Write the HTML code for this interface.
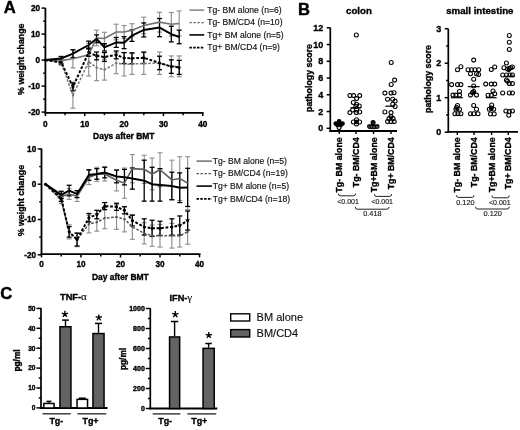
<!DOCTYPE html>
<html><head><meta charset="utf-8"><style>
html,body{margin:0;padding:0;background:#fff;}
body{width:520px;height:430px;overflow:hidden;font-family:"Liberation Sans",sans-serif;-webkit-font-smoothing:antialiased;}
svg{display:block;will-change:transform;}
</style></head><body>
<svg width="520" height="430" viewBox="0 0 520 430">
<style>
text{font-family:"Liberation Sans",sans-serif;fill:#000;}
.b{font-weight:bold;stroke:#000;stroke-width:0.35;}
.r{font-weight:normal;fill:#111;stroke:#111;stroke-width:0.15;}
.s{font-weight:normal;fill:#222;stroke:#222;stroke-width:0.15;}
.P{font-weight:bold;stroke:#000;stroke-width:0.45;}
.g{font-family:'Liberation Serif',serif;font-weight:normal;stroke:#000;stroke-width:0.1;}
</style>
<rect x="0" y="0" width="520" height="430" fill="#fff"/>
<text class="P" x="3.70" y="13.40" font-size="16.6" >A</text>
<text class="P" x="298.10" y="14.60" font-size="16.6" >B</text>
<text class="P" x="0.30" y="298.90" font-size="16.6" >C</text>
<line x1="61.14" y1="60.10" x2="61.14" y2="65.30" stroke="#8e8e8e" stroke-width="1.15" />
<line x1="58.64" y1="60.10" x2="63.64" y2="60.10" stroke="#8e8e8e" stroke-width="1.15" />
<line x1="58.64" y1="65.30" x2="63.64" y2="65.30" stroke="#8e8e8e" stroke-width="1.15" />
<line x1="72.94" y1="82.20" x2="72.94" y2="108.20" stroke="#8e8e8e" stroke-width="1.15" />
<line x1="70.44" y1="82.20" x2="75.44" y2="82.20" stroke="#8e8e8e" stroke-width="1.15" />
<line x1="70.44" y1="108.20" x2="75.44" y2="108.20" stroke="#8e8e8e" stroke-width="1.15" />
<line x1="88.69" y1="47.36" x2="88.69" y2="75.96" stroke="#8e8e8e" stroke-width="1.15" />
<line x1="86.19" y1="47.36" x2="91.19" y2="47.36" stroke="#8e8e8e" stroke-width="1.15" />
<line x1="86.19" y1="75.96" x2="91.19" y2="75.96" stroke="#8e8e8e" stroke-width="1.15" />
<line x1="96.56" y1="54.64" x2="96.56" y2="80.64" stroke="#8e8e8e" stroke-width="1.15" />
<line x1="94.06" y1="54.64" x2="99.06" y2="54.64" stroke="#8e8e8e" stroke-width="1.15" />
<line x1="94.06" y1="80.64" x2="99.06" y2="80.64" stroke="#8e8e8e" stroke-width="1.15" />
<line x1="104.42" y1="59.32" x2="104.42" y2="80.12" stroke="#8e8e8e" stroke-width="1.15" />
<line x1="101.92" y1="59.32" x2="106.92" y2="59.32" stroke="#8e8e8e" stroke-width="1.15" />
<line x1="101.92" y1="80.12" x2="106.92" y2="80.12" stroke="#8e8e8e" stroke-width="1.15" />
<line x1="116.23" y1="52.82" x2="116.23" y2="73.62" stroke="#8e8e8e" stroke-width="1.15" />
<line x1="113.73" y1="52.82" x2="118.73" y2="52.82" stroke="#8e8e8e" stroke-width="1.15" />
<line x1="113.73" y1="73.62" x2="118.73" y2="73.62" stroke="#8e8e8e" stroke-width="1.15" />
<line x1="124.10" y1="52.56" x2="124.10" y2="75.96" stroke="#8e8e8e" stroke-width="1.15" />
<line x1="121.60" y1="52.56" x2="126.60" y2="52.56" stroke="#8e8e8e" stroke-width="1.15" />
<line x1="121.60" y1="75.96" x2="126.60" y2="75.96" stroke="#8e8e8e" stroke-width="1.15" />
<line x1="131.97" y1="53.60" x2="131.97" y2="74.40" stroke="#8e8e8e" stroke-width="1.15" />
<line x1="129.47" y1="53.60" x2="134.47" y2="53.60" stroke="#8e8e8e" stroke-width="1.15" />
<line x1="129.47" y1="74.40" x2="134.47" y2="74.40" stroke="#8e8e8e" stroke-width="1.15" />
<line x1="143.78" y1="52.56" x2="143.78" y2="74.40" stroke="#8e8e8e" stroke-width="1.15" />
<line x1="141.28" y1="52.56" x2="146.28" y2="52.56" stroke="#8e8e8e" stroke-width="1.15" />
<line x1="141.28" y1="74.40" x2="146.28" y2="74.40" stroke="#8e8e8e" stroke-width="1.15" />
<line x1="159.51" y1="52.04" x2="159.51" y2="74.40" stroke="#8e8e8e" stroke-width="1.15" />
<line x1="157.01" y1="52.04" x2="162.01" y2="52.04" stroke="#8e8e8e" stroke-width="1.15" />
<line x1="157.01" y1="74.40" x2="162.01" y2="74.40" stroke="#8e8e8e" stroke-width="1.15" />
<line x1="171.32" y1="55.94" x2="171.32" y2="76.74" stroke="#8e8e8e" stroke-width="1.15" />
<line x1="168.82" y1="55.94" x2="173.82" y2="55.94" stroke="#8e8e8e" stroke-width="1.15" />
<line x1="168.82" y1="76.74" x2="173.82" y2="76.74" stroke="#8e8e8e" stroke-width="1.15" />
<line x1="179.19" y1="55.94" x2="179.19" y2="76.74" stroke="#8e8e8e" stroke-width="1.15" />
<line x1="176.69" y1="55.94" x2="181.69" y2="55.94" stroke="#8e8e8e" stroke-width="1.15" />
<line x1="176.69" y1="76.74" x2="181.69" y2="76.74" stroke="#8e8e8e" stroke-width="1.15" />
<line x1="61.14" y1="58.02" x2="61.14" y2="63.22" stroke="#8e8e8e" stroke-width="1.15" />
<line x1="58.64" y1="58.02" x2="63.64" y2="58.02" stroke="#8e8e8e" stroke-width="1.15" />
<line x1="58.64" y1="63.22" x2="63.64" y2="63.22" stroke="#8e8e8e" stroke-width="1.15" />
<line x1="72.94" y1="49.70" x2="72.94" y2="67.90" stroke="#8e8e8e" stroke-width="1.15" />
<line x1="70.44" y1="49.70" x2="75.44" y2="49.70" stroke="#8e8e8e" stroke-width="1.15" />
<line x1="70.44" y1="67.90" x2="75.44" y2="67.90" stroke="#8e8e8e" stroke-width="1.15" />
<line x1="88.69" y1="43.20" x2="88.69" y2="66.60" stroke="#8e8e8e" stroke-width="1.15" />
<line x1="86.19" y1="43.20" x2="91.19" y2="43.20" stroke="#8e8e8e" stroke-width="1.15" />
<line x1="86.19" y1="66.60" x2="91.19" y2="66.60" stroke="#8e8e8e" stroke-width="1.15" />
<line x1="96.56" y1="30.20" x2="96.56" y2="45.80" stroke="#8e8e8e" stroke-width="1.15" />
<line x1="94.06" y1="30.20" x2="99.06" y2="30.20" stroke="#8e8e8e" stroke-width="1.15" />
<line x1="94.06" y1="45.80" x2="99.06" y2="45.80" stroke="#8e8e8e" stroke-width="1.15" />
<line x1="104.42" y1="32.28" x2="104.42" y2="44.76" stroke="#8e8e8e" stroke-width="1.15" />
<line x1="101.92" y1="32.28" x2="106.92" y2="32.28" stroke="#8e8e8e" stroke-width="1.15" />
<line x1="101.92" y1="44.76" x2="106.92" y2="44.76" stroke="#8e8e8e" stroke-width="1.15" />
<line x1="116.23" y1="24.22" x2="116.23" y2="39.82" stroke="#8e8e8e" stroke-width="1.15" />
<line x1="113.73" y1="24.22" x2="118.73" y2="24.22" stroke="#8e8e8e" stroke-width="1.15" />
<line x1="113.73" y1="39.82" x2="118.73" y2="39.82" stroke="#8e8e8e" stroke-width="1.15" />
<line x1="124.10" y1="25.52" x2="124.10" y2="38.52" stroke="#8e8e8e" stroke-width="1.15" />
<line x1="121.60" y1="25.52" x2="126.60" y2="25.52" stroke="#8e8e8e" stroke-width="1.15" />
<line x1="121.60" y1="38.52" x2="126.60" y2="38.52" stroke="#8e8e8e" stroke-width="1.15" />
<line x1="131.97" y1="23.70" x2="131.97" y2="36.70" stroke="#8e8e8e" stroke-width="1.15" />
<line x1="129.47" y1="23.70" x2="134.47" y2="23.70" stroke="#8e8e8e" stroke-width="1.15" />
<line x1="129.47" y1="36.70" x2="134.47" y2="36.70" stroke="#8e8e8e" stroke-width="1.15" />
<line x1="143.78" y1="17.20" x2="143.78" y2="33.84" stroke="#8e8e8e" stroke-width="1.15" />
<line x1="141.28" y1="17.20" x2="146.28" y2="17.20" stroke="#8e8e8e" stroke-width="1.15" />
<line x1="141.28" y1="33.84" x2="146.28" y2="33.84" stroke="#8e8e8e" stroke-width="1.15" />
<line x1="159.51" y1="12.26" x2="159.51" y2="32.02" stroke="#8e8e8e" stroke-width="1.15" />
<line x1="157.01" y1="12.26" x2="162.01" y2="12.26" stroke="#8e8e8e" stroke-width="1.15" />
<line x1="157.01" y1="32.02" x2="162.01" y2="32.02" stroke="#8e8e8e" stroke-width="1.15" />
<line x1="171.32" y1="12.52" x2="171.32" y2="35.92" stroke="#8e8e8e" stroke-width="1.15" />
<line x1="168.82" y1="12.52" x2="173.82" y2="12.52" stroke="#8e8e8e" stroke-width="1.15" />
<line x1="168.82" y1="35.92" x2="173.82" y2="35.92" stroke="#8e8e8e" stroke-width="1.15" />
<line x1="179.19" y1="10.96" x2="179.19" y2="35.92" stroke="#8e8e8e" stroke-width="1.15" />
<line x1="176.69" y1="10.96" x2="181.69" y2="10.96" stroke="#8e8e8e" stroke-width="1.15" />
<line x1="176.69" y1="35.92" x2="181.69" y2="35.92" stroke="#8e8e8e" stroke-width="1.15" />
<line x1="61.14" y1="60.36" x2="61.14" y2="64.00" stroke="#000" stroke-width="1.3" />
<line x1="58.64" y1="60.36" x2="63.64" y2="60.36" stroke="#000" stroke-width="1.3" />
<line x1="58.64" y1="64.00" x2="63.64" y2="64.00" stroke="#000" stroke-width="1.3" />
<line x1="72.94" y1="82.98" x2="72.94" y2="90.78" stroke="#000" stroke-width="1.3" />
<line x1="70.44" y1="82.98" x2="75.44" y2="82.98" stroke="#000" stroke-width="1.3" />
<line x1="70.44" y1="90.78" x2="75.44" y2="90.78" stroke="#000" stroke-width="1.3" />
<line x1="88.69" y1="48.40" x2="88.69" y2="56.20" stroke="#000" stroke-width="1.3" />
<line x1="86.19" y1="48.40" x2="91.19" y2="48.40" stroke="#000" stroke-width="1.3" />
<line x1="86.19" y1="56.20" x2="91.19" y2="56.20" stroke="#000" stroke-width="1.3" />
<line x1="96.56" y1="52.04" x2="96.56" y2="59.84" stroke="#000" stroke-width="1.3" />
<line x1="94.06" y1="52.04" x2="99.06" y2="52.04" stroke="#000" stroke-width="1.3" />
<line x1="94.06" y1="59.84" x2="99.06" y2="59.84" stroke="#000" stroke-width="1.3" />
<line x1="104.42" y1="52.56" x2="104.42" y2="61.40" stroke="#000" stroke-width="1.3" />
<line x1="101.92" y1="52.56" x2="106.92" y2="52.56" stroke="#000" stroke-width="1.3" />
<line x1="101.92" y1="61.40" x2="106.92" y2="61.40" stroke="#000" stroke-width="1.3" />
<line x1="116.23" y1="51.00" x2="116.23" y2="58.80" stroke="#000" stroke-width="1.3" />
<line x1="113.73" y1="51.00" x2="118.73" y2="51.00" stroke="#000" stroke-width="1.3" />
<line x1="113.73" y1="58.80" x2="118.73" y2="58.80" stroke="#000" stroke-width="1.3" />
<line x1="124.10" y1="52.56" x2="124.10" y2="63.48" stroke="#000" stroke-width="1.3" />
<line x1="121.60" y1="52.56" x2="126.60" y2="52.56" stroke="#000" stroke-width="1.3" />
<line x1="121.60" y1="63.48" x2="126.60" y2="63.48" stroke="#000" stroke-width="1.3" />
<line x1="131.97" y1="52.82" x2="131.97" y2="63.74" stroke="#000" stroke-width="1.3" />
<line x1="129.47" y1="52.82" x2="134.47" y2="52.82" stroke="#000" stroke-width="1.3" />
<line x1="129.47" y1="63.74" x2="134.47" y2="63.74" stroke="#000" stroke-width="1.3" />
<line x1="143.78" y1="52.04" x2="143.78" y2="63.48" stroke="#000" stroke-width="1.3" />
<line x1="141.28" y1="52.04" x2="146.28" y2="52.04" stroke="#000" stroke-width="1.3" />
<line x1="141.28" y1="63.48" x2="146.28" y2="63.48" stroke="#000" stroke-width="1.3" />
<line x1="159.51" y1="56.20" x2="159.51" y2="69.72" stroke="#000" stroke-width="1.3" />
<line x1="157.01" y1="56.20" x2="162.01" y2="56.20" stroke="#000" stroke-width="1.3" />
<line x1="157.01" y1="69.72" x2="162.01" y2="69.72" stroke="#000" stroke-width="1.3" />
<line x1="171.32" y1="59.84" x2="171.32" y2="73.36" stroke="#000" stroke-width="1.3" />
<line x1="168.82" y1="59.84" x2="173.82" y2="59.84" stroke="#000" stroke-width="1.3" />
<line x1="168.82" y1="73.36" x2="173.82" y2="73.36" stroke="#000" stroke-width="1.3" />
<line x1="179.19" y1="60.36" x2="179.19" y2="74.40" stroke="#000" stroke-width="1.3" />
<line x1="176.69" y1="60.36" x2="181.69" y2="60.36" stroke="#000" stroke-width="1.3" />
<line x1="176.69" y1="74.40" x2="181.69" y2="74.40" stroke="#000" stroke-width="1.3" />
<line x1="61.14" y1="56.46" x2="61.14" y2="60.62" stroke="#000" stroke-width="1.3" />
<line x1="58.64" y1="56.46" x2="63.64" y2="56.46" stroke="#000" stroke-width="1.3" />
<line x1="58.64" y1="60.62" x2="63.64" y2="60.62" stroke="#000" stroke-width="1.3" />
<line x1="72.94" y1="49.70" x2="72.94" y2="57.50" stroke="#000" stroke-width="1.3" />
<line x1="70.44" y1="49.70" x2="75.44" y2="49.70" stroke="#000" stroke-width="1.3" />
<line x1="70.44" y1="57.50" x2="75.44" y2="57.50" stroke="#000" stroke-width="1.3" />
<line x1="88.69" y1="41.12" x2="88.69" y2="48.92" stroke="#000" stroke-width="1.3" />
<line x1="86.19" y1="41.12" x2="91.19" y2="41.12" stroke="#000" stroke-width="1.3" />
<line x1="86.19" y1="48.92" x2="91.19" y2="48.92" stroke="#000" stroke-width="1.3" />
<line x1="96.56" y1="34.88" x2="96.56" y2="42.68" stroke="#000" stroke-width="1.3" />
<line x1="94.06" y1="34.88" x2="99.06" y2="34.88" stroke="#000" stroke-width="1.3" />
<line x1="94.06" y1="42.68" x2="99.06" y2="42.68" stroke="#000" stroke-width="1.3" />
<line x1="104.42" y1="43.72" x2="104.42" y2="51.00" stroke="#000" stroke-width="1.3" />
<line x1="101.92" y1="43.72" x2="106.92" y2="43.72" stroke="#000" stroke-width="1.3" />
<line x1="101.92" y1="51.00" x2="106.92" y2="51.00" stroke="#000" stroke-width="1.3" />
<line x1="116.23" y1="37.48" x2="116.23" y2="47.36" stroke="#000" stroke-width="1.3" />
<line x1="113.73" y1="37.48" x2="118.73" y2="37.48" stroke="#000" stroke-width="1.3" />
<line x1="113.73" y1="47.36" x2="118.73" y2="47.36" stroke="#000" stroke-width="1.3" />
<line x1="124.10" y1="36.70" x2="124.10" y2="48.66" stroke="#000" stroke-width="1.3" />
<line x1="121.60" y1="36.70" x2="126.60" y2="36.70" stroke="#000" stroke-width="1.3" />
<line x1="121.60" y1="48.66" x2="126.60" y2="48.66" stroke="#000" stroke-width="1.3" />
<line x1="131.97" y1="29.94" x2="131.97" y2="41.38" stroke="#000" stroke-width="1.3" />
<line x1="129.47" y1="29.94" x2="134.47" y2="29.94" stroke="#000" stroke-width="1.3" />
<line x1="129.47" y1="41.38" x2="134.47" y2="41.38" stroke="#000" stroke-width="1.3" />
<line x1="143.78" y1="22.92" x2="143.78" y2="36.96" stroke="#000" stroke-width="1.3" />
<line x1="141.28" y1="22.92" x2="146.28" y2="22.92" stroke="#000" stroke-width="1.3" />
<line x1="141.28" y1="36.96" x2="146.28" y2="36.96" stroke="#000" stroke-width="1.3" />
<line x1="159.51" y1="18.50" x2="159.51" y2="36.70" stroke="#000" stroke-width="1.3" />
<line x1="157.01" y1="18.50" x2="162.01" y2="18.50" stroke="#000" stroke-width="1.3" />
<line x1="157.01" y1="36.70" x2="162.01" y2="36.70" stroke="#000" stroke-width="1.3" />
<line x1="171.32" y1="26.30" x2="171.32" y2="41.90" stroke="#000" stroke-width="1.3" />
<line x1="168.82" y1="26.30" x2="173.82" y2="26.30" stroke="#000" stroke-width="1.3" />
<line x1="168.82" y1="41.90" x2="173.82" y2="41.90" stroke="#000" stroke-width="1.3" />
<line x1="179.19" y1="30.20" x2="179.19" y2="43.72" stroke="#000" stroke-width="1.3" />
<line x1="176.69" y1="30.20" x2="181.69" y2="30.20" stroke="#000" stroke-width="1.3" />
<line x1="176.69" y1="43.72" x2="181.69" y2="43.72" stroke="#000" stroke-width="1.3" />
<polyline points="45.40,60.10 61.14,62.70 72.94,95.20 88.69,61.66 96.56,67.64 104.42,69.72 116.23,63.22 124.10,64.26 131.97,64.00 143.78,63.48 159.51,63.22 171.32,66.34 179.19,66.34" fill="none" stroke="#777" stroke-width="1.5" stroke-linejoin="miter" stroke-dasharray="2.6,1.6"/>
<circle cx="45.40" cy="60.10" r="1.12" fill="#777"/>
<circle cx="61.14" cy="62.70" r="1.12" fill="#777"/>
<circle cx="72.94" cy="95.20" r="1.12" fill="#777"/>
<circle cx="88.69" cy="61.66" r="1.12" fill="#777"/>
<circle cx="96.56" cy="67.64" r="1.12" fill="#777"/>
<circle cx="104.42" cy="69.72" r="1.12" fill="#777"/>
<circle cx="116.23" cy="63.22" r="1.12" fill="#777"/>
<circle cx="124.10" cy="64.26" r="1.12" fill="#777"/>
<circle cx="131.97" cy="64.00" r="1.12" fill="#777"/>
<circle cx="143.78" cy="63.48" r="1.12" fill="#777"/>
<circle cx="159.51" cy="63.22" r="1.12" fill="#777"/>
<circle cx="171.32" cy="66.34" r="1.12" fill="#777"/>
<circle cx="179.19" cy="66.34" r="1.12" fill="#777"/>
<polyline points="45.40,60.10 61.14,60.62 72.94,58.80 88.69,54.90 96.56,38.00 104.42,38.52 116.23,32.02 124.10,32.02 131.97,30.20 143.78,25.52 159.51,22.14 171.32,24.22 179.19,23.44" fill="none" stroke="#727272" stroke-width="1.6" stroke-linejoin="miter"/>
<polyline points="45.40,60.10 61.14,62.18 72.94,86.88 88.69,52.30 96.56,55.94 104.42,56.98 116.23,54.90 124.10,58.02 131.97,58.28 143.78,57.76 159.51,62.96 171.32,66.60 179.19,67.38" fill="none" stroke="#000" stroke-width="2.0" stroke-linejoin="miter" stroke-dasharray="2.8,1.7"/>
<circle cx="45.40" cy="60.10" r="1.50" fill="#000"/>
<circle cx="61.14" cy="62.18" r="1.50" fill="#000"/>
<circle cx="72.94" cy="86.88" r="1.50" fill="#000"/>
<circle cx="88.69" cy="52.30" r="1.50" fill="#000"/>
<circle cx="96.56" cy="55.94" r="1.50" fill="#000"/>
<circle cx="104.42" cy="56.98" r="1.50" fill="#000"/>
<circle cx="116.23" cy="54.90" r="1.50" fill="#000"/>
<circle cx="124.10" cy="58.02" r="1.50" fill="#000"/>
<circle cx="131.97" cy="58.28" r="1.50" fill="#000"/>
<circle cx="143.78" cy="57.76" r="1.50" fill="#000"/>
<circle cx="159.51" cy="62.96" r="1.50" fill="#000"/>
<circle cx="171.32" cy="66.60" r="1.50" fill="#000"/>
<circle cx="179.19" cy="67.38" r="1.50" fill="#000"/>
<polyline points="45.40,60.10 61.14,58.54 72.94,53.60 88.69,45.02 96.56,38.78 104.42,47.36 116.23,42.42 124.10,42.68 131.97,35.66 143.78,29.94 159.51,27.60 171.32,34.10 179.19,36.96" fill="none" stroke="#000" stroke-width="2.0" stroke-linejoin="miter"/>
<line x1="45.40" y1="8.10" x2="45.40" y2="113.80" stroke="#000" stroke-width="1.8" />
<line x1="44.50" y1="112.90" x2="203.60" y2="112.90" stroke="#000" stroke-width="1.8" />
<line x1="41.60" y1="8.10" x2="45.40" y2="8.10" stroke="#000" stroke-width="1.5" />
<text class="b" x="40.10" y="11.00" font-size="8.2" text-anchor="end" >20</text>
<line x1="41.60" y1="34.10" x2="45.40" y2="34.10" stroke="#000" stroke-width="1.5" />
<text class="b" x="40.10" y="37.00" font-size="8.2" text-anchor="end" >10</text>
<line x1="41.60" y1="60.10" x2="45.40" y2="60.10" stroke="#000" stroke-width="1.5" />
<text class="b" x="40.10" y="63.00" font-size="8.2" text-anchor="end" >0</text>
<line x1="41.60" y1="86.10" x2="45.40" y2="86.10" stroke="#000" stroke-width="1.5" />
<text class="b" x="40.10" y="89.00" font-size="8.2" text-anchor="end" >-10</text>
<line x1="41.60" y1="112.10" x2="45.40" y2="112.10" stroke="#000" stroke-width="1.5" />
<text class="b" x="40.10" y="115.00" font-size="8.2" text-anchor="end" >-20</text>
<line x1="43.10" y1="21.10" x2="45.40" y2="21.10" stroke="#000" stroke-width="1.4" />
<line x1="43.10" y1="47.10" x2="45.40" y2="47.10" stroke="#000" stroke-width="1.4" />
<line x1="43.10" y1="73.10" x2="45.40" y2="73.10" stroke="#000" stroke-width="1.4" />
<line x1="43.10" y1="99.10" x2="45.40" y2="99.10" stroke="#000" stroke-width="1.4" />
<line x1="45.40" y1="112.90" x2="45.40" y2="116.10" stroke="#000" stroke-width="1.5" />
<text class="b" x="45.40" y="127.20" font-size="8.2" text-anchor="middle" >0</text>
<line x1="65.08" y1="112.90" x2="65.08" y2="115.20" stroke="#000" stroke-width="1.5" />
<line x1="84.75" y1="112.90" x2="84.75" y2="116.10" stroke="#000" stroke-width="1.5" />
<text class="b" x="84.75" y="127.20" font-size="8.2" text-anchor="middle" >10</text>
<line x1="104.42" y1="112.90" x2="104.42" y2="115.20" stroke="#000" stroke-width="1.5" />
<line x1="124.10" y1="112.90" x2="124.10" y2="116.10" stroke="#000" stroke-width="1.5" />
<text class="b" x="124.10" y="127.20" font-size="8.2" text-anchor="middle" >20</text>
<line x1="143.78" y1="112.90" x2="143.78" y2="115.20" stroke="#000" stroke-width="1.5" />
<line x1="163.45" y1="112.90" x2="163.45" y2="116.10" stroke="#000" stroke-width="1.5" />
<text class="b" x="163.45" y="127.20" font-size="8.2" text-anchor="middle" >30</text>
<line x1="183.12" y1="112.90" x2="183.12" y2="115.20" stroke="#000" stroke-width="1.5" />
<line x1="202.80" y1="112.90" x2="202.80" y2="116.10" stroke="#000" stroke-width="1.5" />
<text class="b" x="202.80" y="127.20" font-size="8.2" text-anchor="middle" >40</text>
<text class="b" x="93.10" y="139.00" font-size="8.45" >Days after BMT</text>
<text class="b" x="0" y="0" font-size="8.8" text-anchor="middle" transform="translate(20.70,59.20) rotate(-90)" dy="0.36em">% weight change</text>
<line x1="189.4" y1="10.10" x2="204.2" y2="10.10" stroke="#727272" stroke-width="1.3"/>
<text class="r" x="207.30" y="12.70" font-size="8.6" >Tg- BM alone (n=6)</text>
<line x1="189.4" y1="22.70" x2="204.2" y2="22.70" stroke="#6a6a6a" stroke-width="1.2" stroke-dasharray="2.4,1.6"/>
<text class="r" x="207.30" y="25.30" font-size="8.6" >Tg- BM/CD4 (n=10)</text>
<line x1="189.4" y1="34.90" x2="204.2" y2="34.90" stroke="#000" stroke-width="1.6"/>
<text class="r" x="207.30" y="37.50" font-size="8.6" >Tg+ BM alone (n=5)</text>
<line x1="189.4" y1="47.70" x2="204.2" y2="47.70" stroke="#000" stroke-width="1.7" stroke-dasharray="2.5,1.3"/>
<text class="r" x="207.30" y="50.30" font-size="8.6" >Tg+ BM/CD4 (n=9)</text>
<line x1="61.25" y1="196.55" x2="61.25" y2="203.61" stroke="#8e8e8e" stroke-width="1.15" />
<line x1="58.75" y1="196.55" x2="63.75" y2="196.55" stroke="#8e8e8e" stroke-width="1.15" />
<line x1="58.75" y1="203.61" x2="63.75" y2="203.61" stroke="#8e8e8e" stroke-width="1.15" />
<line x1="69.15" y1="224.79" x2="69.15" y2="238.91" stroke="#8e8e8e" stroke-width="1.15" />
<line x1="66.65" y1="224.79" x2="71.65" y2="224.79" stroke="#8e8e8e" stroke-width="1.15" />
<line x1="66.65" y1="238.91" x2="71.65" y2="238.91" stroke="#8e8e8e" stroke-width="1.15" />
<line x1="77.05" y1="232.56" x2="77.05" y2="246.68" stroke="#8e8e8e" stroke-width="1.15" />
<line x1="74.55" y1="232.56" x2="79.55" y2="232.56" stroke="#8e8e8e" stroke-width="1.15" />
<line x1="74.55" y1="246.68" x2="79.55" y2="246.68" stroke="#8e8e8e" stroke-width="1.15" />
<line x1="88.90" y1="215.26" x2="88.90" y2="232.91" stroke="#8e8e8e" stroke-width="1.15" />
<line x1="86.40" y1="215.26" x2="91.40" y2="215.26" stroke="#8e8e8e" stroke-width="1.15" />
<line x1="86.40" y1="232.91" x2="91.40" y2="232.91" stroke="#8e8e8e" stroke-width="1.15" />
<line x1="96.80" y1="213.50" x2="96.80" y2="231.15" stroke="#8e8e8e" stroke-width="1.15" />
<line x1="94.30" y1="213.50" x2="99.30" y2="213.50" stroke="#8e8e8e" stroke-width="1.15" />
<line x1="94.30" y1="231.15" x2="99.30" y2="231.15" stroke="#8e8e8e" stroke-width="1.15" />
<line x1="104.70" y1="207.50" x2="104.70" y2="228.68" stroke="#8e8e8e" stroke-width="1.15" />
<line x1="102.20" y1="207.50" x2="107.20" y2="207.50" stroke="#8e8e8e" stroke-width="1.15" />
<line x1="102.20" y1="228.68" x2="107.20" y2="228.68" stroke="#8e8e8e" stroke-width="1.15" />
<line x1="116.55" y1="204.67" x2="116.55" y2="229.38" stroke="#8e8e8e" stroke-width="1.15" />
<line x1="114.05" y1="204.67" x2="119.05" y2="204.67" stroke="#8e8e8e" stroke-width="1.15" />
<line x1="114.05" y1="229.38" x2="119.05" y2="229.38" stroke="#8e8e8e" stroke-width="1.15" />
<line x1="124.45" y1="206.44" x2="124.45" y2="231.85" stroke="#8e8e8e" stroke-width="1.15" />
<line x1="121.95" y1="206.44" x2="126.95" y2="206.44" stroke="#8e8e8e" stroke-width="1.15" />
<line x1="121.95" y1="231.85" x2="126.95" y2="231.85" stroke="#8e8e8e" stroke-width="1.15" />
<line x1="132.35" y1="214.56" x2="132.35" y2="239.27" stroke="#8e8e8e" stroke-width="1.15" />
<line x1="129.85" y1="214.56" x2="134.85" y2="214.56" stroke="#8e8e8e" stroke-width="1.15" />
<line x1="129.85" y1="239.27" x2="134.85" y2="239.27" stroke="#8e8e8e" stroke-width="1.15" />
<line x1="144.20" y1="222.68" x2="144.20" y2="243.86" stroke="#8e8e8e" stroke-width="1.15" />
<line x1="141.70" y1="222.68" x2="146.70" y2="222.68" stroke="#8e8e8e" stroke-width="1.15" />
<line x1="141.70" y1="243.86" x2="146.70" y2="243.86" stroke="#8e8e8e" stroke-width="1.15" />
<line x1="152.10" y1="225.15" x2="152.10" y2="246.33" stroke="#8e8e8e" stroke-width="1.15" />
<line x1="149.60" y1="225.15" x2="154.60" y2="225.15" stroke="#8e8e8e" stroke-width="1.15" />
<line x1="149.60" y1="246.33" x2="154.60" y2="246.33" stroke="#8e8e8e" stroke-width="1.15" />
<line x1="160.00" y1="224.44" x2="160.00" y2="247.03" stroke="#8e8e8e" stroke-width="1.15" />
<line x1="157.50" y1="224.44" x2="162.50" y2="224.44" stroke="#8e8e8e" stroke-width="1.15" />
<line x1="157.50" y1="247.03" x2="162.50" y2="247.03" stroke="#8e8e8e" stroke-width="1.15" />
<line x1="171.85" y1="223.38" x2="171.85" y2="248.09" stroke="#8e8e8e" stroke-width="1.15" />
<line x1="169.35" y1="223.38" x2="174.35" y2="223.38" stroke="#8e8e8e" stroke-width="1.15" />
<line x1="169.35" y1="248.09" x2="174.35" y2="248.09" stroke="#8e8e8e" stroke-width="1.15" />
<line x1="179.75" y1="224.44" x2="179.75" y2="247.03" stroke="#8e8e8e" stroke-width="1.15" />
<line x1="177.25" y1="224.44" x2="182.25" y2="224.44" stroke="#8e8e8e" stroke-width="1.15" />
<line x1="177.25" y1="247.03" x2="182.25" y2="247.03" stroke="#8e8e8e" stroke-width="1.15" />
<line x1="187.65" y1="219.50" x2="187.65" y2="244.21" stroke="#8e8e8e" stroke-width="1.15" />
<line x1="185.15" y1="219.50" x2="190.15" y2="219.50" stroke="#8e8e8e" stroke-width="1.15" />
<line x1="185.15" y1="244.21" x2="190.15" y2="244.21" stroke="#8e8e8e" stroke-width="1.15" />
<line x1="61.25" y1="193.02" x2="61.25" y2="200.08" stroke="#8e8e8e" stroke-width="1.1" />
<line x1="58.75" y1="193.02" x2="63.75" y2="193.02" stroke="#8e8e8e" stroke-width="1.1" />
<line x1="58.75" y1="200.08" x2="63.75" y2="200.08" stroke="#8e8e8e" stroke-width="1.1" />
<line x1="69.15" y1="188.79" x2="69.15" y2="199.38" stroke="#8e8e8e" stroke-width="1.1" />
<line x1="66.65" y1="188.79" x2="71.65" y2="188.79" stroke="#8e8e8e" stroke-width="1.1" />
<line x1="66.65" y1="199.38" x2="71.65" y2="199.38" stroke="#8e8e8e" stroke-width="1.1" />
<line x1="77.05" y1="190.91" x2="77.05" y2="201.50" stroke="#8e8e8e" stroke-width="1.1" />
<line x1="74.55" y1="190.91" x2="79.55" y2="190.91" stroke="#8e8e8e" stroke-width="1.1" />
<line x1="74.55" y1="201.50" x2="79.55" y2="201.50" stroke="#8e8e8e" stroke-width="1.1" />
<line x1="88.90" y1="170.43" x2="88.90" y2="184.55" stroke="#8e8e8e" stroke-width="1.1" />
<line x1="86.40" y1="170.43" x2="91.40" y2="170.43" stroke="#8e8e8e" stroke-width="1.1" />
<line x1="86.40" y1="184.55" x2="91.40" y2="184.55" stroke="#8e8e8e" stroke-width="1.1" />
<line x1="96.80" y1="167.26" x2="96.80" y2="181.38" stroke="#8e8e8e" stroke-width="1.1" />
<line x1="94.30" y1="167.26" x2="99.30" y2="167.26" stroke="#8e8e8e" stroke-width="1.1" />
<line x1="94.30" y1="181.38" x2="99.30" y2="181.38" stroke="#8e8e8e" stroke-width="1.1" />
<line x1="104.70" y1="166.90" x2="104.70" y2="181.02" stroke="#8e8e8e" stroke-width="1.1" />
<line x1="102.20" y1="166.90" x2="107.20" y2="166.90" stroke="#8e8e8e" stroke-width="1.1" />
<line x1="102.20" y1="181.02" x2="107.20" y2="181.02" stroke="#8e8e8e" stroke-width="1.1" />
<line x1="116.55" y1="169.73" x2="116.55" y2="190.91" stroke="#8e8e8e" stroke-width="1.1" />
<line x1="114.05" y1="169.73" x2="119.05" y2="169.73" stroke="#8e8e8e" stroke-width="1.1" />
<line x1="114.05" y1="190.91" x2="119.05" y2="190.91" stroke="#8e8e8e" stroke-width="1.1" />
<line x1="124.45" y1="167.96" x2="124.45" y2="198.32" stroke="#8e8e8e" stroke-width="1.1" />
<line x1="121.95" y1="167.96" x2="126.95" y2="167.96" stroke="#8e8e8e" stroke-width="1.1" />
<line x1="121.95" y1="198.32" x2="126.95" y2="198.32" stroke="#8e8e8e" stroke-width="1.1" />
<line x1="132.35" y1="154.55" x2="132.35" y2="182.79" stroke="#8e8e8e" stroke-width="1.1" />
<line x1="129.85" y1="154.55" x2="134.85" y2="154.55" stroke="#8e8e8e" stroke-width="1.1" />
<line x1="129.85" y1="182.79" x2="134.85" y2="182.79" stroke="#8e8e8e" stroke-width="1.1" />
<line x1="144.20" y1="155.25" x2="144.20" y2="183.49" stroke="#8e8e8e" stroke-width="1.1" />
<line x1="141.70" y1="155.25" x2="146.70" y2="155.25" stroke="#8e8e8e" stroke-width="1.1" />
<line x1="141.70" y1="183.49" x2="146.70" y2="183.49" stroke="#8e8e8e" stroke-width="1.1" />
<line x1="152.10" y1="158.08" x2="152.10" y2="189.85" stroke="#8e8e8e" stroke-width="1.1" />
<line x1="149.60" y1="158.08" x2="154.60" y2="158.08" stroke="#8e8e8e" stroke-width="1.1" />
<line x1="149.60" y1="189.85" x2="154.60" y2="189.85" stroke="#8e8e8e" stroke-width="1.1" />
<line x1="160.00" y1="152.78" x2="160.00" y2="186.67" stroke="#8e8e8e" stroke-width="1.1" />
<line x1="157.50" y1="152.78" x2="162.50" y2="152.78" stroke="#8e8e8e" stroke-width="1.1" />
<line x1="157.50" y1="186.67" x2="162.50" y2="186.67" stroke="#8e8e8e" stroke-width="1.1" />
<line x1="171.85" y1="160.20" x2="171.85" y2="199.73" stroke="#8e8e8e" stroke-width="1.1" />
<line x1="169.35" y1="160.20" x2="174.35" y2="160.20" stroke="#8e8e8e" stroke-width="1.1" />
<line x1="169.35" y1="199.73" x2="174.35" y2="199.73" stroke="#8e8e8e" stroke-width="1.1" />
<line x1="179.75" y1="156.67" x2="179.75" y2="200.44" stroke="#8e8e8e" stroke-width="1.1" />
<line x1="177.25" y1="156.67" x2="182.25" y2="156.67" stroke="#8e8e8e" stroke-width="1.1" />
<line x1="177.25" y1="200.44" x2="182.25" y2="200.44" stroke="#8e8e8e" stroke-width="1.1" />
<line x1="187.65" y1="156.67" x2="187.65" y2="209.62" stroke="#8e8e8e" stroke-width="1.1" />
<line x1="185.15" y1="156.67" x2="190.15" y2="156.67" stroke="#8e8e8e" stroke-width="1.1" />
<line x1="185.15" y1="209.62" x2="190.15" y2="209.62" stroke="#8e8e8e" stroke-width="1.1" />
<line x1="61.25" y1="195.85" x2="61.25" y2="201.50" stroke="#000" stroke-width="1.3" />
<line x1="58.75" y1="195.85" x2="63.75" y2="195.85" stroke="#000" stroke-width="1.3" />
<line x1="58.75" y1="201.50" x2="63.75" y2="201.50" stroke="#000" stroke-width="1.3" />
<line x1="69.15" y1="226.56" x2="69.15" y2="237.15" stroke="#000" stroke-width="1.3" />
<line x1="66.65" y1="226.56" x2="71.65" y2="226.56" stroke="#000" stroke-width="1.3" />
<line x1="66.65" y1="237.15" x2="71.65" y2="237.15" stroke="#000" stroke-width="1.3" />
<line x1="77.05" y1="233.27" x2="77.05" y2="245.97" stroke="#000" stroke-width="1.3" />
<line x1="74.55" y1="233.27" x2="79.55" y2="233.27" stroke="#000" stroke-width="1.3" />
<line x1="74.55" y1="245.97" x2="79.55" y2="245.97" stroke="#000" stroke-width="1.3" />
<line x1="88.90" y1="213.50" x2="88.90" y2="221.97" stroke="#000" stroke-width="1.3" />
<line x1="86.40" y1="213.50" x2="91.40" y2="213.50" stroke="#000" stroke-width="1.3" />
<line x1="86.40" y1="221.97" x2="91.40" y2="221.97" stroke="#000" stroke-width="1.3" />
<line x1="96.80" y1="210.32" x2="96.80" y2="218.79" stroke="#000" stroke-width="1.3" />
<line x1="94.30" y1="210.32" x2="99.30" y2="210.32" stroke="#000" stroke-width="1.3" />
<line x1="94.30" y1="218.79" x2="99.30" y2="218.79" stroke="#000" stroke-width="1.3" />
<line x1="104.70" y1="202.56" x2="104.70" y2="209.62" stroke="#000" stroke-width="1.3" />
<line x1="102.20" y1="202.56" x2="107.20" y2="202.56" stroke="#000" stroke-width="1.3" />
<line x1="102.20" y1="209.62" x2="107.20" y2="209.62" stroke="#000" stroke-width="1.3" />
<line x1="116.55" y1="203.26" x2="116.55" y2="210.32" stroke="#000" stroke-width="1.3" />
<line x1="114.05" y1="203.26" x2="119.05" y2="203.26" stroke="#000" stroke-width="1.3" />
<line x1="114.05" y1="210.32" x2="119.05" y2="210.32" stroke="#000" stroke-width="1.3" />
<line x1="124.45" y1="206.79" x2="124.45" y2="213.85" stroke="#000" stroke-width="1.3" />
<line x1="121.95" y1="206.79" x2="126.95" y2="206.79" stroke="#000" stroke-width="1.3" />
<line x1="121.95" y1="213.85" x2="126.95" y2="213.85" stroke="#000" stroke-width="1.3" />
<line x1="132.35" y1="215.26" x2="132.35" y2="225.85" stroke="#000" stroke-width="1.3" />
<line x1="129.85" y1="215.26" x2="134.85" y2="215.26" stroke="#000" stroke-width="1.3" />
<line x1="129.85" y1="225.85" x2="134.85" y2="225.85" stroke="#000" stroke-width="1.3" />
<line x1="144.20" y1="218.79" x2="144.20" y2="235.03" stroke="#000" stroke-width="1.3" />
<line x1="141.70" y1="218.79" x2="146.70" y2="218.79" stroke="#000" stroke-width="1.3" />
<line x1="141.70" y1="235.03" x2="146.70" y2="235.03" stroke="#000" stroke-width="1.3" />
<line x1="152.10" y1="220.21" x2="152.10" y2="236.44" stroke="#000" stroke-width="1.3" />
<line x1="149.60" y1="220.21" x2="154.60" y2="220.21" stroke="#000" stroke-width="1.3" />
<line x1="149.60" y1="236.44" x2="154.60" y2="236.44" stroke="#000" stroke-width="1.3" />
<line x1="160.00" y1="221.26" x2="160.00" y2="235.38" stroke="#000" stroke-width="1.3" />
<line x1="157.50" y1="221.26" x2="162.50" y2="221.26" stroke="#000" stroke-width="1.3" />
<line x1="157.50" y1="235.38" x2="162.50" y2="235.38" stroke="#000" stroke-width="1.3" />
<line x1="171.85" y1="218.79" x2="171.85" y2="235.03" stroke="#000" stroke-width="1.3" />
<line x1="169.35" y1="218.79" x2="174.35" y2="218.79" stroke="#000" stroke-width="1.3" />
<line x1="169.35" y1="235.03" x2="174.35" y2="235.03" stroke="#000" stroke-width="1.3" />
<line x1="179.75" y1="215.97" x2="179.75" y2="235.03" stroke="#000" stroke-width="1.3" />
<line x1="177.25" y1="215.97" x2="182.25" y2="215.97" stroke="#000" stroke-width="1.3" />
<line x1="177.25" y1="235.03" x2="182.25" y2="235.03" stroke="#000" stroke-width="1.3" />
<line x1="187.65" y1="211.03" x2="187.65" y2="230.09" stroke="#000" stroke-width="1.3" />
<line x1="185.15" y1="211.03" x2="190.15" y2="211.03" stroke="#000" stroke-width="1.3" />
<line x1="185.15" y1="230.09" x2="190.15" y2="230.09" stroke="#000" stroke-width="1.3" />
<line x1="61.25" y1="191.26" x2="61.25" y2="198.32" stroke="#000" stroke-width="1.3" />
<line x1="58.75" y1="191.26" x2="63.75" y2="191.26" stroke="#000" stroke-width="1.3" />
<line x1="58.75" y1="198.32" x2="63.75" y2="198.32" stroke="#000" stroke-width="1.3" />
<line x1="69.15" y1="185.26" x2="69.15" y2="195.85" stroke="#000" stroke-width="1.3" />
<line x1="66.65" y1="185.26" x2="71.65" y2="185.26" stroke="#000" stroke-width="1.3" />
<line x1="66.65" y1="195.85" x2="71.65" y2="195.85" stroke="#000" stroke-width="1.3" />
<line x1="77.05" y1="190.55" x2="77.05" y2="197.61" stroke="#000" stroke-width="1.3" />
<line x1="74.55" y1="190.55" x2="79.55" y2="190.55" stroke="#000" stroke-width="1.3" />
<line x1="74.55" y1="197.61" x2="79.55" y2="197.61" stroke="#000" stroke-width="1.3" />
<line x1="88.90" y1="169.73" x2="88.90" y2="180.32" stroke="#000" stroke-width="1.3" />
<line x1="86.40" y1="169.73" x2="91.40" y2="169.73" stroke="#000" stroke-width="1.3" />
<line x1="86.40" y1="180.32" x2="91.40" y2="180.32" stroke="#000" stroke-width="1.3" />
<line x1="96.80" y1="168.67" x2="96.80" y2="179.26" stroke="#000" stroke-width="1.3" />
<line x1="94.30" y1="168.67" x2="99.30" y2="168.67" stroke="#000" stroke-width="1.3" />
<line x1="94.30" y1="179.26" x2="99.30" y2="179.26" stroke="#000" stroke-width="1.3" />
<line x1="104.70" y1="167.26" x2="104.70" y2="177.85" stroke="#000" stroke-width="1.3" />
<line x1="102.20" y1="167.26" x2="107.20" y2="167.26" stroke="#000" stroke-width="1.3" />
<line x1="102.20" y1="177.85" x2="107.20" y2="177.85" stroke="#000" stroke-width="1.3" />
<line x1="116.55" y1="170.08" x2="116.55" y2="182.79" stroke="#000" stroke-width="1.3" />
<line x1="114.05" y1="170.08" x2="119.05" y2="170.08" stroke="#000" stroke-width="1.3" />
<line x1="114.05" y1="182.79" x2="119.05" y2="182.79" stroke="#000" stroke-width="1.3" />
<line x1="124.45" y1="169.37" x2="124.45" y2="184.91" stroke="#000" stroke-width="1.3" />
<line x1="121.95" y1="169.37" x2="126.95" y2="169.37" stroke="#000" stroke-width="1.3" />
<line x1="121.95" y1="184.91" x2="126.95" y2="184.91" stroke="#000" stroke-width="1.3" />
<line x1="132.35" y1="167.96" x2="132.35" y2="189.14" stroke="#000" stroke-width="1.3" />
<line x1="129.85" y1="167.96" x2="134.85" y2="167.96" stroke="#000" stroke-width="1.3" />
<line x1="129.85" y1="189.14" x2="134.85" y2="189.14" stroke="#000" stroke-width="1.3" />
<line x1="144.20" y1="160.20" x2="144.20" y2="201.14" stroke="#000" stroke-width="1.3" />
<line x1="141.70" y1="160.20" x2="146.70" y2="160.20" stroke="#000" stroke-width="1.3" />
<line x1="141.70" y1="201.14" x2="146.70" y2="201.14" stroke="#000" stroke-width="1.3" />
<line x1="152.10" y1="167.26" x2="152.10" y2="201.14" stroke="#000" stroke-width="1.3" />
<line x1="149.60" y1="167.26" x2="154.60" y2="167.26" stroke="#000" stroke-width="1.3" />
<line x1="149.60" y1="201.14" x2="154.60" y2="201.14" stroke="#000" stroke-width="1.3" />
<line x1="160.00" y1="168.67" x2="160.00" y2="201.14" stroke="#000" stroke-width="1.3" />
<line x1="157.50" y1="168.67" x2="162.50" y2="168.67" stroke="#000" stroke-width="1.3" />
<line x1="157.50" y1="201.14" x2="162.50" y2="201.14" stroke="#000" stroke-width="1.3" />
<line x1="171.85" y1="172.20" x2="171.85" y2="199.73" stroke="#000" stroke-width="1.3" />
<line x1="169.35" y1="172.20" x2="174.35" y2="172.20" stroke="#000" stroke-width="1.3" />
<line x1="169.35" y1="199.73" x2="174.35" y2="199.73" stroke="#000" stroke-width="1.3" />
<line x1="179.75" y1="172.90" x2="179.75" y2="202.56" stroke="#000" stroke-width="1.3" />
<line x1="177.25" y1="172.90" x2="182.25" y2="172.90" stroke="#000" stroke-width="1.3" />
<line x1="177.25" y1="202.56" x2="182.25" y2="202.56" stroke="#000" stroke-width="1.3" />
<line x1="187.65" y1="168.31" x2="187.65" y2="206.44" stroke="#000" stroke-width="1.3" />
<line x1="185.15" y1="168.31" x2="190.15" y2="168.31" stroke="#000" stroke-width="1.3" />
<line x1="185.15" y1="206.44" x2="190.15" y2="206.44" stroke="#000" stroke-width="1.3" />
<polyline points="45.45,184.20 61.25,200.08 69.15,231.85 77.05,239.62 88.90,224.09 96.80,222.32 104.70,218.09 116.55,217.03 124.45,219.15 132.35,226.91 144.20,233.27 152.10,235.74 160.00,235.74 171.85,235.74 179.75,235.74 187.65,231.85" fill="none" stroke="#555" stroke-width="1.5" stroke-linejoin="miter" stroke-dasharray="2.6,1.6"/>
<circle cx="45.45" cy="184.20" r="1.12" fill="#555"/>
<circle cx="61.25" cy="200.08" r="1.12" fill="#555"/>
<circle cx="69.15" cy="231.85" r="1.12" fill="#555"/>
<circle cx="77.05" cy="239.62" r="1.12" fill="#555"/>
<circle cx="88.90" cy="224.09" r="1.12" fill="#555"/>
<circle cx="96.80" cy="222.32" r="1.12" fill="#555"/>
<circle cx="104.70" cy="218.09" r="1.12" fill="#555"/>
<circle cx="116.55" cy="217.03" r="1.12" fill="#555"/>
<circle cx="124.45" cy="219.15" r="1.12" fill="#555"/>
<circle cx="132.35" cy="226.91" r="1.12" fill="#555"/>
<circle cx="144.20" cy="233.27" r="1.12" fill="#555"/>
<circle cx="152.10" cy="235.74" r="1.12" fill="#555"/>
<circle cx="160.00" cy="235.74" r="1.12" fill="#555"/>
<circle cx="171.85" cy="235.74" r="1.12" fill="#555"/>
<circle cx="179.75" cy="235.74" r="1.12" fill="#555"/>
<circle cx="187.65" cy="231.85" r="1.12" fill="#555"/>
<polyline points="45.45,184.20 61.25,196.55 69.15,194.08 77.05,196.20 88.90,177.49 96.80,174.32 104.70,173.96 116.55,180.32 124.45,183.14 132.35,168.67 144.20,169.37 152.10,173.96 160.00,169.73 171.85,179.96 179.75,178.55 187.65,183.14" fill="none" stroke="#5c5c5c" stroke-width="1.6" stroke-linejoin="miter"/>
<polyline points="45.45,184.20 61.25,198.67 69.15,231.85 77.05,239.62 88.90,217.73 96.80,214.56 104.70,206.09 116.55,206.79 124.45,210.32 132.35,220.56 144.20,226.91 152.10,228.32 160.00,228.32 171.85,226.91 179.75,225.50 187.65,220.56" fill="none" stroke="#000" stroke-width="2.0" stroke-linejoin="miter" stroke-dasharray="2.8,1.7"/>
<circle cx="45.45" cy="184.20" r="1.50" fill="#000"/>
<circle cx="61.25" cy="198.67" r="1.50" fill="#000"/>
<circle cx="69.15" cy="231.85" r="1.50" fill="#000"/>
<circle cx="77.05" cy="239.62" r="1.50" fill="#000"/>
<circle cx="88.90" cy="217.73" r="1.50" fill="#000"/>
<circle cx="96.80" cy="214.56" r="1.50" fill="#000"/>
<circle cx="104.70" cy="206.09" r="1.50" fill="#000"/>
<circle cx="116.55" cy="206.79" r="1.50" fill="#000"/>
<circle cx="124.45" cy="210.32" r="1.50" fill="#000"/>
<circle cx="132.35" cy="220.56" r="1.50" fill="#000"/>
<circle cx="144.20" cy="226.91" r="1.50" fill="#000"/>
<circle cx="152.10" cy="228.32" r="1.50" fill="#000"/>
<circle cx="160.00" cy="228.32" r="1.50" fill="#000"/>
<circle cx="171.85" cy="226.91" r="1.50" fill="#000"/>
<circle cx="179.75" cy="225.50" r="1.50" fill="#000"/>
<circle cx="187.65" cy="220.56" r="1.50" fill="#000"/>
<polyline points="45.45,184.20 61.25,194.79 69.15,190.55 77.05,194.08 88.90,175.02 96.80,173.96 104.70,172.55 116.55,176.43 124.45,177.14 132.35,178.55 144.20,180.67 152.10,184.20 160.00,184.91 171.85,185.96 179.75,187.73 187.65,187.38" fill="none" stroke="#000" stroke-width="2.0" stroke-linejoin="miter"/>
<line x1="41.50" y1="148.70" x2="41.50" y2="255.10" stroke="#000" stroke-width="1.8" />
<line x1="40.60" y1="254.20" x2="200.50" y2="254.20" stroke="#000" stroke-width="1.8" />
<line x1="37.70" y1="148.90" x2="41.50" y2="148.90" stroke="#000" stroke-width="1.5" />
<text class="b" x="36.20" y="151.80" font-size="8.2" text-anchor="end" >10</text>
<line x1="37.70" y1="184.20" x2="41.50" y2="184.20" stroke="#000" stroke-width="1.5" />
<text class="b" x="36.20" y="187.10" font-size="8.2" text-anchor="end" >0</text>
<line x1="37.70" y1="219.50" x2="41.50" y2="219.50" stroke="#000" stroke-width="1.5" />
<text class="b" x="36.20" y="222.40" font-size="8.2" text-anchor="end" >-10</text>
<line x1="37.70" y1="254.80" x2="41.50" y2="254.80" stroke="#000" stroke-width="1.5" />
<text class="b" x="36.20" y="257.70" font-size="8.2" text-anchor="end" >-20</text>
<line x1="39.20" y1="166.55" x2="41.50" y2="166.55" stroke="#000" stroke-width="1.4" />
<line x1="39.20" y1="201.85" x2="41.50" y2="201.85" stroke="#000" stroke-width="1.4" />
<line x1="39.20" y1="237.15" x2="41.50" y2="237.15" stroke="#000" stroke-width="1.4" />
<line x1="41.50" y1="254.20" x2="41.50" y2="257.40" stroke="#000" stroke-width="1.5" />
<text class="b" x="41.50" y="267.30" font-size="8.2" text-anchor="middle" >0</text>
<line x1="61.25" y1="254.20" x2="61.25" y2="256.50" stroke="#000" stroke-width="1.5" />
<line x1="81.00" y1="254.20" x2="81.00" y2="257.40" stroke="#000" stroke-width="1.5" />
<text class="b" x="81.00" y="267.30" font-size="8.2" text-anchor="middle" >10</text>
<line x1="100.75" y1="254.20" x2="100.75" y2="256.50" stroke="#000" stroke-width="1.5" />
<line x1="120.50" y1="254.20" x2="120.50" y2="257.40" stroke="#000" stroke-width="1.5" />
<text class="b" x="120.50" y="267.30" font-size="8.2" text-anchor="middle" >20</text>
<line x1="140.25" y1="254.20" x2="140.25" y2="256.50" stroke="#000" stroke-width="1.5" />
<line x1="160.00" y1="254.20" x2="160.00" y2="257.40" stroke="#000" stroke-width="1.5" />
<text class="b" x="160.00" y="267.30" font-size="8.2" text-anchor="middle" >30</text>
<line x1="179.75" y1="254.20" x2="179.75" y2="256.50" stroke="#000" stroke-width="1.5" />
<line x1="199.50" y1="254.20" x2="199.50" y2="257.40" stroke="#000" stroke-width="1.5" />
<text class="b" x="199.50" y="267.30" font-size="8.2" text-anchor="middle" >40</text>
<text class="b" x="92.00" y="280.00" font-size="8.45" >Day after BMT</text>
<text class="b" x="0" y="0" font-size="8.8" text-anchor="middle" transform="translate(20.70,200.60) rotate(-90)" dy="0.36em">% weight change</text>
<line x1="196.5" y1="161.10" x2="211.9" y2="161.10" stroke="#666" stroke-width="1.4"/>
<text class="r" x="212.70" y="163.70" font-size="8.6" >Tg- BM alone (n=5)</text>
<line x1="196.5" y1="173.60" x2="211.9" y2="173.60" stroke="#555" stroke-width="1.2" stroke-dasharray="2.4,1.6"/>
<text class="r" x="212.70" y="176.20" font-size="8.6" >Tg- BM/CD4 (n=19)</text>
<line x1="196.5" y1="186.10" x2="211.9" y2="186.10" stroke="#000" stroke-width="1.6"/>
<text class="r" x="212.70" y="188.70" font-size="8.6" >Tg+ BM alone (n=5)</text>
<line x1="196.5" y1="198.90" x2="211.9" y2="198.90" stroke="#000" stroke-width="1.7" stroke-dasharray="2.5,1.3"/>
<text class="r" x="212.70" y="201.50" font-size="8.6" >Tg+ BM/CD4 (n=18)</text>
<line x1="330.30" y1="27.60" x2="330.30" y2="131.90" stroke="#000" stroke-width="1.7" />
<line x1="329.50" y1="131.00" x2="397.00" y2="131.00" stroke="#000" stroke-width="1.8" />
<line x1="326.70" y1="27.80" x2="330.30" y2="27.80" stroke="#000" stroke-width="1.5" />
<text class="b" x="323.30" y="30.90" font-size="9.0" text-anchor="end" >12</text>
<line x1="326.70" y1="44.55" x2="330.30" y2="44.55" stroke="#000" stroke-width="1.5" />
<text class="b" x="323.30" y="47.65" font-size="9.0" text-anchor="end" >10</text>
<line x1="326.70" y1="61.30" x2="330.30" y2="61.30" stroke="#000" stroke-width="1.5" />
<text class="b" x="323.30" y="64.40" font-size="9.0" text-anchor="end" >8</text>
<line x1="326.70" y1="78.05" x2="330.30" y2="78.05" stroke="#000" stroke-width="1.5" />
<text class="b" x="323.30" y="81.15" font-size="9.0" text-anchor="end" >6</text>
<line x1="326.70" y1="94.80" x2="330.30" y2="94.80" stroke="#000" stroke-width="1.5" />
<text class="b" x="323.30" y="97.90" font-size="9.0" text-anchor="end" >4</text>
<line x1="326.70" y1="111.55" x2="330.30" y2="111.55" stroke="#000" stroke-width="1.5" />
<text class="b" x="323.30" y="114.65" font-size="9.0" text-anchor="end" >2</text>
<line x1="326.70" y1="128.30" x2="330.30" y2="128.30" stroke="#000" stroke-width="1.5" />
<text class="b" x="323.30" y="131.40" font-size="9.0" text-anchor="end" >0</text>
<line x1="339.30" y1="131.00" x2="339.30" y2="134.00" stroke="#000" stroke-width="1.4" />
<line x1="356.00" y1="131.00" x2="356.00" y2="134.00" stroke="#000" stroke-width="1.4" />
<line x1="373.50" y1="131.00" x2="373.50" y2="134.00" stroke="#000" stroke-width="1.4" />
<line x1="391.00" y1="131.00" x2="391.00" y2="134.00" stroke="#000" stroke-width="1.4" />
<text class="b" x="0" y="0" font-size="8.8" text-anchor="end" transform="translate(339.30,137.30) rotate(-90)" dy="0.36em">Tg- BM alone</text>
<text class="b" x="0" y="0" font-size="8.8" text-anchor="end" transform="translate(356.00,137.30) rotate(-90)" dy="0.36em">Tg- BM/CD4</text>
<text class="b" x="0" y="0" font-size="8.8" text-anchor="end" transform="translate(373.50,137.30) rotate(-90)" dy="0.36em">Tg+BM alone</text>
<text class="b" x="0" y="0" font-size="8.8" text-anchor="end" transform="translate(391.00,137.30) rotate(-90)" dy="0.36em">Tg+ BM/CD4</text>
<text class="b" x="346.00" y="14.30" font-size="9.7" >colon</text>
<text class="b" x="0" y="0" font-size="8.8" text-anchor="middle" transform="translate(309.30,78.00) rotate(-90)" dy="0.36em">pathology score</text>
<circle cx="356.30" cy="34.90" r="2.0" fill="none" stroke="#000" stroke-width="1.05"/>
<circle cx="349.90" cy="95.60" r="2.0" fill="none" stroke="#000" stroke-width="1.05"/>
<circle cx="353.60" cy="95.60" r="2.0" fill="none" stroke="#000" stroke-width="1.05"/>
<circle cx="359.70" cy="95.60" r="2.0" fill="none" stroke="#000" stroke-width="1.05"/>
<circle cx="356.60" cy="98.60" r="2.0" fill="none" stroke="#000" stroke-width="1.05"/>
<circle cx="353.30" cy="102.50" r="2.0" fill="none" stroke="#000" stroke-width="1.05"/>
<circle cx="356.60" cy="104.50" r="2.0" fill="none" stroke="#000" stroke-width="1.05"/>
<circle cx="359.30" cy="105.90" r="2.0" fill="none" stroke="#000" stroke-width="1.05"/>
<circle cx="355.80" cy="106.40" r="2.0" fill="none" stroke="#000" stroke-width="1.05"/>
<circle cx="352.60" cy="109.90" r="2.0" fill="none" stroke="#000" stroke-width="1.05"/>
<circle cx="356.60" cy="109.90" r="2.0" fill="none" stroke="#000" stroke-width="1.05"/>
<circle cx="349.90" cy="112.60" r="2.0" fill="none" stroke="#000" stroke-width="1.05"/>
<circle cx="356.20" cy="112.60" r="2.0" fill="none" stroke="#000" stroke-width="1.05"/>
<circle cx="359.70" cy="111.90" r="2.0" fill="none" stroke="#000" stroke-width="1.05"/>
<circle cx="356.50" cy="119.80" r="2.0" fill="none" stroke="#000" stroke-width="1.05"/>
<circle cx="353.40" cy="121.90" r="2.0" fill="none" stroke="#000" stroke-width="1.05"/>
<circle cx="359.60" cy="121.90" r="2.0" fill="none" stroke="#000" stroke-width="1.05"/>
<circle cx="356.50" cy="124.00" r="2.0" fill="none" stroke="#000" stroke-width="1.05"/>
<circle cx="384.90" cy="93.10" r="2.0" fill="none" stroke="#000" stroke-width="1.05"/>
<circle cx="391.00" cy="93.10" r="2.0" fill="none" stroke="#000" stroke-width="1.05"/>
<circle cx="394.00" cy="92.80" r="2.0" fill="none" stroke="#000" stroke-width="1.05"/>
<circle cx="391.20" cy="62.40" r="2.0" fill="none" stroke="#000" stroke-width="1.05"/>
<circle cx="394.60" cy="80.10" r="2.0" fill="none" stroke="#000" stroke-width="1.05"/>
<circle cx="391.20" cy="84.40" r="2.0" fill="none" stroke="#000" stroke-width="1.05"/>
<circle cx="387.60" cy="99.30" r="2.0" fill="none" stroke="#000" stroke-width="1.05"/>
<circle cx="392.70" cy="99.30" r="2.0" fill="none" stroke="#000" stroke-width="1.05"/>
<circle cx="395.10" cy="101.10" r="2.0" fill="none" stroke="#000" stroke-width="1.05"/>
<circle cx="392.70" cy="104.30" r="2.0" fill="none" stroke="#000" stroke-width="1.05"/>
<circle cx="395.10" cy="106.40" r="2.0" fill="none" stroke="#000" stroke-width="1.05"/>
<circle cx="384.90" cy="111.90" r="2.0" fill="none" stroke="#000" stroke-width="1.05"/>
<circle cx="391.00" cy="112.60" r="2.0" fill="none" stroke="#000" stroke-width="1.05"/>
<circle cx="391.00" cy="116.60" r="2.0" fill="none" stroke="#000" stroke-width="1.05"/>
<circle cx="389.00" cy="118.60" r="2.0" fill="none" stroke="#000" stroke-width="1.05"/>
<circle cx="393.00" cy="118.60" r="2.0" fill="none" stroke="#000" stroke-width="1.05"/>
<circle cx="387.60" cy="121.60" r="2.0" fill="none" stroke="#000" stroke-width="1.05"/>
<circle cx="391.00" cy="121.60" r="2.0" fill="none" stroke="#000" stroke-width="1.05"/>
<circle cx="394.20" cy="121.60" r="2.0" fill="none" stroke="#000" stroke-width="1.05"/>
<circle cx="339.10" cy="127.60" r="2.0" fill="none" stroke="#000" stroke-width="1.05"/>
<circle cx="369.50" cy="126.60" r="1.9" fill="#555" stroke="#000" stroke-width="1.05"/>
<circle cx="372.00" cy="126.90" r="1.9" fill="#555" stroke="#000" stroke-width="1.05"/>
<circle cx="374.60" cy="126.90" r="1.9" fill="#555" stroke="#000" stroke-width="1.05"/>
<circle cx="377.20" cy="126.60" r="1.9" fill="#555" stroke="#000" stroke-width="1.05"/>
<circle cx="339.10" cy="121.40" r="1.9" fill="#000" stroke="#000" stroke-width="1.05"/>
<circle cx="335.80" cy="123.60" r="1.9" fill="#000" stroke="#000" stroke-width="1.05"/>
<circle cx="342.40" cy="123.60" r="1.9" fill="#000" stroke="#000" stroke-width="1.05"/>
<circle cx="339.10" cy="123.60" r="1.9" fill="#000" stroke="#000" stroke-width="1.05"/>
<circle cx="337.60" cy="125.00" r="1.9" fill="#000" stroke="#000" stroke-width="1.05"/>
<circle cx="340.60" cy="125.00" r="1.9" fill="#000" stroke="#000" stroke-width="1.05"/>
<circle cx="356.50" cy="121.90" r="1.9" fill="#000" stroke="#000" stroke-width="0.8"/>
<circle cx="373.10" cy="122.60" r="1.9" fill="#222" stroke="#000" stroke-width="1.3"/>
<circle cx="391.00" cy="118.00" r="1.2" fill="#000" stroke="#000" stroke-width="0.8"/>
<line x1="334.50" y1="123.69" x2="344.00" y2="123.69" stroke="#000" stroke-width="1.2" />
<line x1="350.60" y1="107.70" x2="361.30" y2="107.70" stroke="#000" stroke-width="1.2" />
<line x1="367.50" y1="125.37" x2="379.00" y2="125.37" stroke="#000" stroke-width="1.2" />
<line x1="385.30" y1="106.19" x2="394.60" y2="106.19" stroke="#000" stroke-width="1.2" />
<path d="M338.30,193.50 Q338.30,195.80 340.10,195.80 L353.80,195.80 Q355.60,195.80 355.60,193.50" fill="none" stroke="#222" stroke-width="1.0"/>
<text class="s" x="348.10" y="203.50" font-size="7.0" text-anchor="middle" >&lt;0.001</text>
<path d="M374.40,194.10 Q374.40,196.40 376.20,196.40 L389.80,196.40 Q391.60,196.40 391.60,194.10" fill="none" stroke="#222" stroke-width="1.0"/>
<text class="s" x="382.20" y="204.20" font-size="7.0" text-anchor="middle" >&lt;0.001</text>
<path d="M355.30,206.90 Q355.30,209.20 357.10,209.20 L387.20,209.20 Q389.00,209.20 389.00,206.90" fill="none" stroke="#222" stroke-width="1.0"/>
<text class="s" x="372.40" y="215.80" font-size="7.3" text-anchor="middle" >0.418</text>
<line x1="448.30" y1="28.70" x2="448.30" y2="132.80" stroke="#000" stroke-width="1.7" />
<line x1="447.50" y1="131.90" x2="518.00" y2="131.90" stroke="#000" stroke-width="1.8" />
<line x1="444.70" y1="28.70" x2="448.30" y2="28.70" stroke="#000" stroke-width="1.5" />
<text class="b" x="441.30" y="31.80" font-size="9.0" text-anchor="end" >3</text>
<line x1="444.70" y1="63.20" x2="448.30" y2="63.20" stroke="#000" stroke-width="1.5" />
<text class="b" x="441.30" y="66.30" font-size="9.0" text-anchor="end" >2</text>
<line x1="444.70" y1="97.70" x2="448.30" y2="97.70" stroke="#000" stroke-width="1.5" />
<text class="b" x="441.30" y="100.80" font-size="9.0" text-anchor="end" >1</text>
<line x1="444.70" y1="132.20" x2="448.30" y2="132.20" stroke="#000" stroke-width="1.5" />
<text class="b" x="441.30" y="135.30" font-size="9.0" text-anchor="end" >0</text>
<line x1="446.10" y1="45.95" x2="448.30" y2="45.95" stroke="#000" stroke-width="1.4" />
<line x1="446.10" y1="80.45" x2="448.30" y2="80.45" stroke="#000" stroke-width="1.4" />
<line x1="446.10" y1="114.95" x2="448.30" y2="114.95" stroke="#000" stroke-width="1.4" />
<line x1="457.30" y1="131.90" x2="457.30" y2="134.90" stroke="#000" stroke-width="1.4" />
<line x1="474.00" y1="131.90" x2="474.00" y2="134.90" stroke="#000" stroke-width="1.4" />
<line x1="491.60" y1="131.90" x2="491.60" y2="134.90" stroke="#000" stroke-width="1.4" />
<line x1="508.30" y1="131.90" x2="508.30" y2="134.90" stroke="#000" stroke-width="1.4" />
<text class="b" x="0" y="0" font-size="8.8" text-anchor="end" transform="translate(457.30,137.30) rotate(-90)" dy="0.36em">Tg- BM alone</text>
<text class="b" x="0" y="0" font-size="8.8" text-anchor="end" transform="translate(474.00,137.30) rotate(-90)" dy="0.36em">Tg- BM/CD4</text>
<text class="b" x="0" y="0" font-size="8.8" text-anchor="end" transform="translate(491.60,137.30) rotate(-90)" dy="0.36em">Tg+BM alone</text>
<text class="b" x="0" y="0" font-size="8.8" text-anchor="end" transform="translate(508.30,137.30) rotate(-90)" dy="0.36em">Tg+ BM/CD4</text>
<text class="b" x="446.20" y="14.30" font-size="9.7" >small intestine</text>
<text class="b" x="0" y="0" font-size="8.8" text-anchor="middle" transform="translate(428.00,79.00) rotate(-90)" dy="0.36em">pathology score</text>
<circle cx="457.50" cy="69.80" r="2.0" fill="none" stroke="#000" stroke-width="1.05"/>
<circle cx="460.90" cy="66.80" r="2.0" fill="none" stroke="#000" stroke-width="1.05"/>
<circle cx="451.60" cy="84.60" r="2.0" fill="none" stroke="#000" stroke-width="1.05"/>
<circle cx="457.50" cy="84.60" r="2.0" fill="none" stroke="#000" stroke-width="1.05"/>
<circle cx="460.90" cy="84.60" r="2.0" fill="none" stroke="#000" stroke-width="1.05"/>
<circle cx="459.50" cy="91.50" r="2.0" fill="none" stroke="#000" stroke-width="1.05"/>
<circle cx="455.90" cy="95.10" r="2.0" fill="none" stroke="#000" stroke-width="1.05"/>
<circle cx="459.50" cy="95.10" r="2.0" fill="none" stroke="#000" stroke-width="1.05"/>
<circle cx="453.00" cy="95.10" r="2.0" fill="none" stroke="#000" stroke-width="1.05"/>
<circle cx="457.50" cy="105.40" r="2.0" fill="none" stroke="#000" stroke-width="1.05"/>
<circle cx="455.90" cy="109.30" r="2.0" fill="none" stroke="#000" stroke-width="1.05"/>
<circle cx="459.50" cy="109.30" r="2.0" fill="none" stroke="#000" stroke-width="1.05"/>
<circle cx="454.90" cy="113.70" r="2.0" fill="none" stroke="#000" stroke-width="1.05"/>
<circle cx="457.90" cy="113.70" r="2.0" fill="none" stroke="#000" stroke-width="1.05"/>
<circle cx="460.90" cy="113.70" r="2.0" fill="none" stroke="#000" stroke-width="1.05"/>
<circle cx="456.50" cy="107.50" r="2.0" fill="none" stroke="#000" stroke-width="1.05"/>
<circle cx="473.70" cy="60.10" r="2.0" fill="none" stroke="#000" stroke-width="1.05"/>
<circle cx="468.00" cy="69.80" r="2.0" fill="none" stroke="#000" stroke-width="1.05"/>
<circle cx="471.60" cy="69.80" r="2.0" fill="none" stroke="#000" stroke-width="1.05"/>
<circle cx="475.00" cy="69.80" r="2.0" fill="none" stroke="#000" stroke-width="1.05"/>
<circle cx="478.70" cy="69.80" r="2.0" fill="none" stroke="#000" stroke-width="1.05"/>
<circle cx="470.50" cy="73.80" r="2.0" fill="none" stroke="#000" stroke-width="1.05"/>
<circle cx="476.50" cy="73.80" r="2.0" fill="none" stroke="#000" stroke-width="1.05"/>
<circle cx="478.60" cy="74.50" r="2.0" fill="none" stroke="#000" stroke-width="1.05"/>
<circle cx="473.70" cy="79.20" r="2.0" fill="none" stroke="#000" stroke-width="1.05"/>
<circle cx="473.70" cy="86.00" r="2.0" fill="none" stroke="#000" stroke-width="1.05"/>
<circle cx="473.70" cy="91.50" r="2.0" fill="none" stroke="#000" stroke-width="1.05"/>
<circle cx="472.50" cy="92.50" r="2.0" fill="none" stroke="#000" stroke-width="1.05"/>
<circle cx="470.50" cy="95.10" r="2.0" fill="none" stroke="#000" stroke-width="1.05"/>
<circle cx="476.50" cy="95.10" r="2.0" fill="none" stroke="#000" stroke-width="1.05"/>
<circle cx="473.70" cy="105.40" r="2.0" fill="none" stroke="#000" stroke-width="1.05"/>
<circle cx="476.50" cy="109.30" r="2.0" fill="none" stroke="#000" stroke-width="1.05"/>
<circle cx="470.50" cy="113.70" r="2.0" fill="none" stroke="#000" stroke-width="1.05"/>
<circle cx="473.70" cy="113.70" r="2.0" fill="none" stroke="#000" stroke-width="1.05"/>
<circle cx="478.00" cy="113.70" r="2.0" fill="none" stroke="#000" stroke-width="1.05"/>
<circle cx="491.30" cy="69.50" r="2.0" fill="none" stroke="#000" stroke-width="1.05"/>
<circle cx="494.70" cy="67.00" r="2.0" fill="none" stroke="#000" stroke-width="1.05"/>
<circle cx="485.70" cy="84.10" r="2.0" fill="none" stroke="#000" stroke-width="1.05"/>
<circle cx="491.30" cy="84.10" r="2.0" fill="none" stroke="#000" stroke-width="1.05"/>
<circle cx="494.70" cy="84.10" r="2.0" fill="none" stroke="#000" stroke-width="1.05"/>
<circle cx="493.00" cy="90.90" r="2.0" fill="none" stroke="#000" stroke-width="1.05"/>
<circle cx="488.10" cy="95.30" r="2.0" fill="none" stroke="#000" stroke-width="1.05"/>
<circle cx="491.30" cy="95.30" r="2.0" fill="none" stroke="#000" stroke-width="1.05"/>
<circle cx="494.70" cy="93.80" r="2.0" fill="none" stroke="#000" stroke-width="1.05"/>
<circle cx="491.70" cy="105.00" r="2.0" fill="none" stroke="#000" stroke-width="1.05"/>
<circle cx="489.30" cy="109.20" r="2.0" fill="none" stroke="#000" stroke-width="1.05"/>
<circle cx="491.30" cy="108.00" r="2.0" fill="none" stroke="#000" stroke-width="1.05"/>
<circle cx="493.70" cy="109.20" r="2.0" fill="none" stroke="#000" stroke-width="1.05"/>
<circle cx="490.50" cy="114.00" r="2.0" fill="none" stroke="#000" stroke-width="1.05"/>
<circle cx="494.20" cy="114.00" r="2.0" fill="none" stroke="#000" stroke-width="1.05"/>
<circle cx="509.30" cy="35.40" r="2.0" fill="none" stroke="#000" stroke-width="1.05"/>
<circle cx="509.30" cy="42.20" r="2.0" fill="none" stroke="#000" stroke-width="1.05"/>
<circle cx="509.30" cy="49.50" r="2.0" fill="none" stroke="#000" stroke-width="1.05"/>
<circle cx="506.40" cy="62.90" r="2.0" fill="none" stroke="#000" stroke-width="1.05"/>
<circle cx="503.90" cy="67.80" r="2.0" fill="none" stroke="#000" stroke-width="1.05"/>
<circle cx="507.60" cy="69.00" r="2.0" fill="none" stroke="#000" stroke-width="1.05"/>
<circle cx="510.70" cy="67.80" r="2.0" fill="none" stroke="#000" stroke-width="1.05"/>
<circle cx="512.40" cy="67.00" r="2.0" fill="none" stroke="#000" stroke-width="1.05"/>
<circle cx="509.30" cy="68.50" r="2.0" fill="none" stroke="#000" stroke-width="1.05"/>
<circle cx="502.70" cy="75.00" r="2.0" fill="none" stroke="#000" stroke-width="1.05"/>
<circle cx="506.40" cy="75.00" r="2.0" fill="none" stroke="#000" stroke-width="1.05"/>
<circle cx="510.00" cy="75.00" r="2.0" fill="none" stroke="#000" stroke-width="1.05"/>
<circle cx="512.40" cy="75.00" r="2.0" fill="none" stroke="#000" stroke-width="1.05"/>
<circle cx="506.40" cy="80.00" r="2.0" fill="none" stroke="#000" stroke-width="1.05"/>
<circle cx="507.60" cy="81.20" r="2.0" fill="none" stroke="#000" stroke-width="1.05"/>
<circle cx="509.30" cy="83.60" r="2.0" fill="none" stroke="#000" stroke-width="1.05"/>
<circle cx="512.40" cy="83.60" r="2.0" fill="none" stroke="#000" stroke-width="1.05"/>
<circle cx="502.70" cy="92.90" r="2.0" fill="none" stroke="#000" stroke-width="1.05"/>
<circle cx="509.30" cy="92.90" r="2.0" fill="none" stroke="#000" stroke-width="1.05"/>
<circle cx="512.40" cy="92.90" r="2.0" fill="none" stroke="#000" stroke-width="1.05"/>
<circle cx="505.90" cy="110.90" r="2.0" fill="none" stroke="#000" stroke-width="1.05"/>
<circle cx="509.30" cy="111.60" r="2.0" fill="none" stroke="#000" stroke-width="1.05"/>
<circle cx="512.40" cy="110.90" r="2.0" fill="none" stroke="#000" stroke-width="1.05"/>
<circle cx="508.80" cy="115.30" r="2.0" fill="none" stroke="#000" stroke-width="1.05"/>
<circle cx="457.40" cy="108.90" r="1.6" fill="#000" stroke="#000" stroke-width="0.9"/>
<circle cx="491.30" cy="108.60" r="1.6" fill="#000" stroke="#000" stroke-width="0.9"/>
<circle cx="474.00" cy="92.60" r="1.6" fill="#000" stroke="#000" stroke-width="0.9"/>
<circle cx="508.80" cy="70.30" r="1.6" fill="#000" stroke="#000" stroke-width="0.9"/>
<line x1="451.00" y1="97.70" x2="462.80" y2="97.70" stroke="#000" stroke-width="1.2" />
<line x1="467.80" y1="86.66" x2="479.60" y2="86.66" stroke="#000" stroke-width="1.2" />
<line x1="485.70" y1="97.70" x2="496.60" y2="97.70" stroke="#000" stroke-width="1.2" />
<line x1="503.50" y1="76.31" x2="515.00" y2="76.31" stroke="#000" stroke-width="1.2" />
<path d="M456.50,195.10 Q456.50,197.40 458.30,197.40 L472.20,197.40 Q474.00,197.40 474.00,195.10" fill="none" stroke="#222" stroke-width="1.0"/>
<text class="s" x="465.40" y="204.70" font-size="7.3" text-anchor="middle" >0.120</text>
<path d="M492.00,195.50 Q492.00,197.80 493.80,197.80 L507.40,197.80 Q509.20,197.80 509.20,195.50" fill="none" stroke="#222" stroke-width="1.0"/>
<text class="s" x="499.80" y="205.30" font-size="7.0" text-anchor="middle" >&lt;0.001</text>
<path d="M475.60,206.70 Q475.60,209.00 477.40,209.00 L507.40,209.00 Q509.20,209.00 509.20,206.70" fill="none" stroke="#222" stroke-width="1.0"/>
<text class="s" x="492.70" y="215.80" font-size="7.3" text-anchor="middle" >0.120</text>
<line x1="41.00" y1="308.00" x2="41.00" y2="408.80" stroke="#000" stroke-width="1.7" />
<line x1="40.20" y1="408.00" x2="107.50" y2="408.00" stroke="#000" stroke-width="1.8" />
<line x1="36.50" y1="407.90" x2="41.00" y2="407.90" stroke="#000" stroke-width="1.5" />
<text class="b" x="35.50" y="410.20" font-size="6.6" text-anchor="end" >0</text>
<line x1="36.50" y1="388.00" x2="41.00" y2="388.00" stroke="#000" stroke-width="1.5" />
<text class="b" x="35.50" y="390.30" font-size="6.6" text-anchor="end" >10</text>
<line x1="36.50" y1="368.10" x2="41.00" y2="368.10" stroke="#000" stroke-width="1.5" />
<text class="b" x="35.50" y="370.40" font-size="6.6" text-anchor="end" >20</text>
<line x1="36.50" y1="348.20" x2="41.00" y2="348.20" stroke="#000" stroke-width="1.5" />
<text class="b" x="35.50" y="350.50" font-size="6.6" text-anchor="end" >30</text>
<line x1="36.50" y1="328.30" x2="41.00" y2="328.30" stroke="#000" stroke-width="1.5" />
<text class="b" x="35.50" y="330.60" font-size="6.6" text-anchor="end" >40</text>
<line x1="36.50" y1="308.40" x2="41.00" y2="308.40" stroke="#000" stroke-width="1.5" />
<text class="b" x="35.50" y="310.70" font-size="6.6" text-anchor="end" >50</text>
<line x1="38.70" y1="397.95" x2="41.00" y2="397.95" stroke="#000" stroke-width="1.5" />
<line x1="38.70" y1="378.05" x2="41.00" y2="378.05" stroke="#000" stroke-width="1.5" />
<line x1="38.70" y1="358.15" x2="41.00" y2="358.15" stroke="#000" stroke-width="1.5" />
<line x1="38.70" y1="338.25" x2="41.00" y2="338.25" stroke="#000" stroke-width="1.5" />
<line x1="38.70" y1="318.35" x2="41.00" y2="318.35" stroke="#000" stroke-width="1.5" />
<rect x="43.85" y="403.45" width="10.20" height="4.55" fill="#fff" stroke="#000" stroke-width="1.5"/>
<line x1="48.90" y1="402.70" x2="48.90" y2="401.40" stroke="#000" stroke-width="1.4" />
<line x1="46.40" y1="401.40" x2="51.40" y2="401.40" stroke="#000" stroke-width="1.5" />
<rect x="59.95" y="326.75" width="11.00" height="81.25" fill="#636363" stroke="#000" stroke-width="1.5"/>
<line x1="65.50" y1="326.00" x2="65.50" y2="320.10" stroke="#000" stroke-width="1.4" />
<line x1="62.10" y1="320.10" x2="68.90" y2="320.10" stroke="#000" stroke-width="1.5" />
<rect x="77.05" y="399.35" width="10.50" height="8.65" fill="#fff" stroke="#000" stroke-width="1.5"/>
<line x1="82.30" y1="398.60" x2="82.30" y2="398.20" stroke="#000" stroke-width="1.4" />
<line x1="78.80" y1="398.20" x2="85.80" y2="398.20" stroke="#000" stroke-width="1.5" />
<rect x="92.95" y="333.55" width="11.10" height="74.45" fill="#636363" stroke="#000" stroke-width="1.5"/>
<line x1="98.50" y1="332.80" x2="98.50" y2="323.40" stroke="#000" stroke-width="1.4" />
<line x1="95.00" y1="323.40" x2="102.00" y2="323.40" stroke="#000" stroke-width="1.5" />
<path d="M64.90,314.10 L64.90,310.80 M64.90,314.10 L68.04,313.08 M64.90,314.10 L66.84,316.77 M64.90,314.10 L62.96,316.77 M64.90,314.10 L61.76,313.08 " stroke="#000" stroke-width="1.35" stroke-linecap="butt" fill="none"/>
<path d="M98.80,317.70 L98.80,314.40 M98.80,317.70 L101.94,316.68 M98.80,317.70 L100.74,320.37 M98.80,317.70 L96.86,320.37 M98.80,317.70 L95.66,316.68 " stroke="#000" stroke-width="1.35" stroke-linecap="butt" fill="none"/>
<line x1="42.50" y1="413.80" x2="70.80" y2="413.80" stroke="#333" stroke-width="1.4" />
<line x1="77.50" y1="413.80" x2="106.30" y2="413.80" stroke="#333" stroke-width="1.4" />
<text class="b" x="56.30" y="424.00" font-size="8.9" text-anchor="middle" >Tg-</text>
<text class="b" x="90.50" y="424.00" font-size="8.9" text-anchor="middle" >Tg+</text>
<text class="b" x="0" y="0" font-size="8.3" text-anchor="middle" transform="translate(16.80,360.50) rotate(-90)" dy="0.36em">pg/ml</text>
<text class="b" x="60.1" y="299.5" font-size="9.2">TNF-<tspan class="g" font-size="11">&#945;</tspan></text>
<line x1="150.30" y1="308.20" x2="150.30" y2="409.30" stroke="#000" stroke-width="1.7" />
<line x1="149.50" y1="408.50" x2="217.30" y2="408.50" stroke="#000" stroke-width="1.8" />
<line x1="145.80" y1="408.50" x2="150.30" y2="408.50" stroke="#000" stroke-width="1.5" />
<text class="b" x="144.80" y="410.80" font-size="6.6" text-anchor="end" textLength="3.9" lengthAdjust="spacingAndGlyphs">0</text>
<line x1="145.80" y1="388.50" x2="150.30" y2="388.50" stroke="#000" stroke-width="1.5" />
<text class="b" x="144.80" y="390.80" font-size="6.6" text-anchor="end" textLength="11.7" lengthAdjust="spacingAndGlyphs">200</text>
<line x1="145.80" y1="368.50" x2="150.30" y2="368.50" stroke="#000" stroke-width="1.5" />
<text class="b" x="144.80" y="370.80" font-size="6.6" text-anchor="end" textLength="11.7" lengthAdjust="spacingAndGlyphs">400</text>
<line x1="145.80" y1="348.50" x2="150.30" y2="348.50" stroke="#000" stroke-width="1.5" />
<text class="b" x="144.80" y="350.80" font-size="6.6" text-anchor="end" textLength="11.7" lengthAdjust="spacingAndGlyphs">600</text>
<line x1="145.80" y1="328.50" x2="150.30" y2="328.50" stroke="#000" stroke-width="1.5" />
<text class="b" x="144.80" y="330.80" font-size="6.6" text-anchor="end" textLength="11.7" lengthAdjust="spacingAndGlyphs">800</text>
<line x1="145.80" y1="308.50" x2="150.30" y2="308.50" stroke="#000" stroke-width="1.5" />
<text class="b" x="144.80" y="310.80" font-size="6.6" text-anchor="end" textLength="15.6" lengthAdjust="spacingAndGlyphs">1000</text>
<line x1="148.00" y1="398.50" x2="150.30" y2="398.50" stroke="#000" stroke-width="1.5" />
<line x1="148.00" y1="378.50" x2="150.30" y2="378.50" stroke="#000" stroke-width="1.5" />
<line x1="148.00" y1="358.50" x2="150.30" y2="358.50" stroke="#000" stroke-width="1.5" />
<line x1="148.00" y1="338.50" x2="150.30" y2="338.50" stroke="#000" stroke-width="1.5" />
<line x1="148.00" y1="318.50" x2="150.30" y2="318.50" stroke="#000" stroke-width="1.5" />
<rect x="169.55" y="336.95" width="10.10" height="71.55" fill="#636363" stroke="#000" stroke-width="1.5"/>
<line x1="174.60" y1="336.20" x2="174.60" y2="321.50" stroke="#000" stroke-width="1.4" />
<line x1="170.95" y1="321.50" x2="178.25" y2="321.50" stroke="#000" stroke-width="1.5" />
<rect x="203.05" y="348.35" width="11.20" height="60.15" fill="#636363" stroke="#000" stroke-width="1.5"/>
<line x1="208.60" y1="347.60" x2="208.60" y2="343.50" stroke="#000" stroke-width="1.4" />
<line x1="205.35" y1="343.50" x2="211.85" y2="343.50" stroke="#000" stroke-width="1.5" />
<path d="M175.30,314.40 L175.30,311.10 M175.30,314.40 L178.44,313.38 M175.30,314.40 L177.24,317.07 M175.30,314.40 L173.36,317.07 M175.30,314.40 L172.16,313.38 " stroke="#000" stroke-width="1.35" stroke-linecap="butt" fill="none"/>
<path d="M208.80,335.30 L208.80,332.00 M208.80,335.30 L211.94,334.28 M208.80,335.30 L210.74,337.97 M208.80,335.30 L206.86,337.97 M208.80,335.30 L205.66,334.28 " stroke="#000" stroke-width="1.35" stroke-linecap="butt" fill="none"/>
<line x1="152.70" y1="413.90" x2="180.40" y2="413.90" stroke="#333" stroke-width="1.4" />
<line x1="187.30" y1="413.90" x2="216.20" y2="413.90" stroke="#333" stroke-width="1.4" />
<text class="b" x="165.20" y="424.20" font-size="8.9" text-anchor="middle" >Tg-</text>
<text class="b" x="199.30" y="424.20" font-size="8.9" text-anchor="middle" >Tg+</text>
<text class="b" x="0" y="0" font-size="8.3" text-anchor="middle" transform="translate(123.20,359.00) rotate(-90)" dy="0.36em">pg/ml</text>
<text class="b" x="169.5" y="301.2" font-size="9.2">IFN-<tspan class="g" font-size="11">&#947;</tspan></text>
<rect x="230.7" y="313.8" width="19" height="7.2" fill="#fff" stroke="#000" stroke-width="1.4"/>
<rect x="230.7" y="329.6" width="19" height="7.4" fill="#636363" stroke="#000" stroke-width="1.4"/>
<text class="r" x="256.60" y="320.80" font-size="11.0" >BM alone</text>
<text class="r" x="256.60" y="336.90" font-size="11.0" >BM/CD4</text>
</svg>
</body></html>
